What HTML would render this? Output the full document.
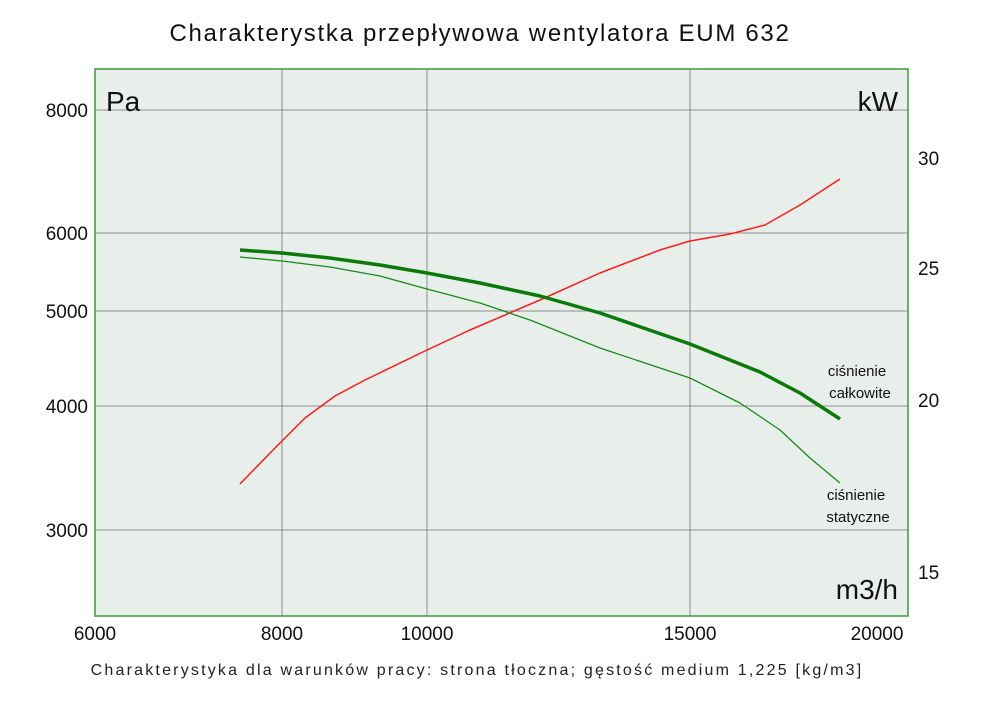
<!DOCTYPE html>
<html><head><meta charset="utf-8"><style>
body{margin:0;background:#fff;}
svg text{font-family:"Liberation Sans","DejaVu Sans",sans-serif;}
</style></head><body>
<svg width="1000" height="706" viewBox="0 0 1000 706" xmlns="http://www.w3.org/2000/svg">
<rect width="1000" height="706" fill="#fff"/>
<text x="480" y="41" font-size="24" text-anchor="middle" fill="#111" letter-spacing="1.7">Charakterystka przepływowa wentylatora EUM 632</text>
<rect x="95" y="69" width="813" height="547" fill="#e8efeb"/>
<g stroke="#8c8c8c" stroke-width="1">
<line x1="95" y1="110" x2="908" y2="110"/>
<line x1="95" y1="233" x2="908" y2="233"/>
<line x1="95" y1="311" x2="908" y2="311"/>
<line x1="95" y1="406" x2="908" y2="406"/>
<line x1="95" y1="530" x2="908" y2="530"/>
<line x1="282" y1="69" x2="282" y2="616"/>
<line x1="427" y1="69" x2="427" y2="616"/>
<line x1="690" y1="69" x2="690" y2="616"/>
</g>
<rect x="95" y="69" width="813" height="547" fill="none" stroke="#3a9a3a" stroke-width="1.5"/>
<polyline fill="none" stroke="#ff1a1a" stroke-width="1.5" stroke-linejoin="round" points="240,484 275,448 305,418 335,396 365,380 427,350 470,330 540,300 600,273 660,250 690,241 730,234 765,225 800,205 840,179"/>
<polyline fill="none" stroke="#1a8a1a" stroke-width="1.3" stroke-linejoin="round" points="240,257 282,261 330,267 380,276 427,289 480,303 530,320 600,348 690,378 740,403 780,430 810,458 840,483"/>
<polyline fill="none" stroke="#0a7a0a" stroke-width="3.5" stroke-linejoin="round" points="240,250 282,253 330,258 380,265 427,273 480,283 540,296 600,313 690,344 760,372 800,393 840,419"/>
<g font-size="19" fill="#111">
<text x="88" y="117" text-anchor="end">8000</text>
<text x="88" y="240" text-anchor="end">6000</text>
<text x="88" y="318" text-anchor="end">5000</text>
<text x="88" y="413" text-anchor="end">4000</text>
<text x="88" y="537" text-anchor="end">3000</text>
<text x="918" y="165">30</text>
<text x="918" y="275">25</text>
<text x="918" y="407">20</text>
<text x="918" y="579">15</text>
<text x="95" y="640" text-anchor="middle">6000</text>
<text x="282" y="640" text-anchor="middle">8000</text>
<text x="427" y="640" text-anchor="middle">10000</text>
<text x="690" y="640" text-anchor="middle">15000</text>
<text x="877" y="640" text-anchor="middle">20000</text>
</g>
<text x="106" y="111" font-size="28" fill="#111">Pa</text>
<text x="898" y="111" font-size="28" fill="#111" text-anchor="end">kW</text>
<text x="898" y="599" font-size="28" fill="#111" text-anchor="end">m3/h</text>
<g font-size="15" fill="#111" text-anchor="middle">
<text x="857" y="376">ciśnienie</text>
<text x="860" y="398">całkowite</text>
<text x="856" y="500">ciśnienie</text>
<text x="858" y="522">statyczne</text>
</g>
<text x="477" y="675" font-size="16" fill="#222" text-anchor="middle" letter-spacing="2.2">Charakterystyka dla warunków pracy: strona tłoczna; gęstość medium 1,225 [kg/m3]</text>
</svg>
</body></html>
